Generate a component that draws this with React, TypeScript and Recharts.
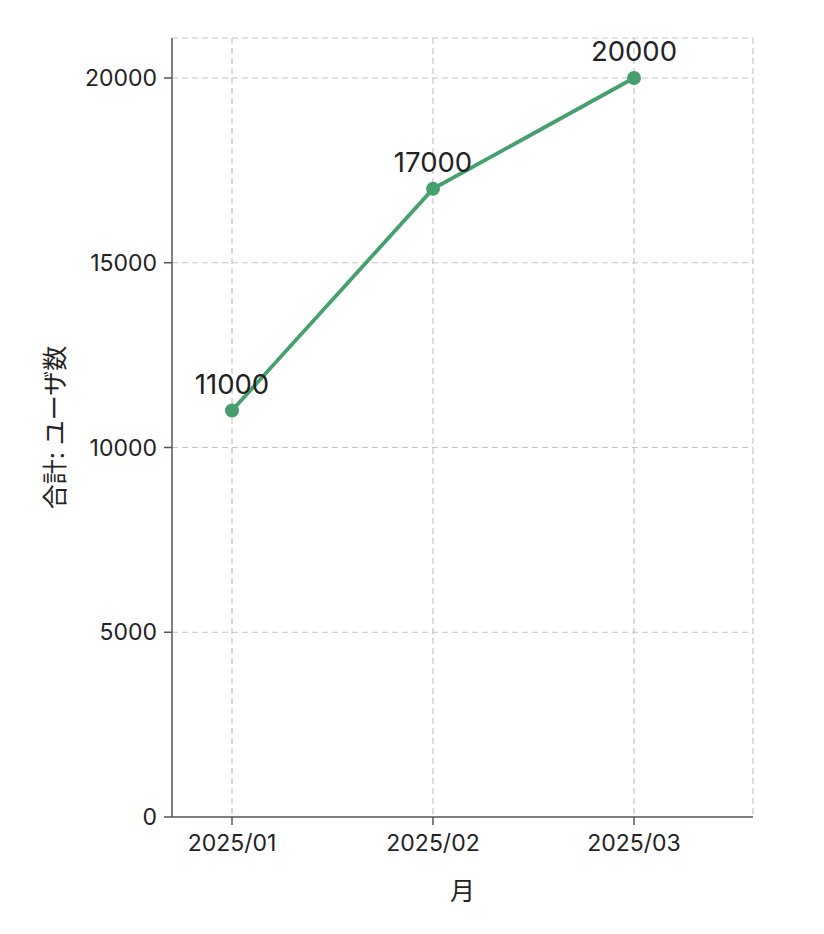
import React from 'react';
import { LineChart, Line, XAxis, YAxis, CartesianGrid, LabelList } from 'recharts';

const months = ['2025/01', '2025/02', '2025/03'];
const users = [11000, 17000, 20000];
const yTicks = [0, 5000, 10000, 15000, 20000];

const data = months.map((m, i) => ({ month: m, users: users[i] }));

const FONT = 'Inter, "Noto Sans CJK JP", sans-serif';
const GREEN = '#45A06E';
const Y_PAD_TOP = 40;
const X_PAD = { left: 60, right: 119 };

function applyScale(s: any, v: any): number | undefined {
  if (!s) return undefined;
  if (typeof s === 'function') return s(v);
  if (typeof s.map === 'function') return s.map(v);
  if (typeof s.scale === 'function') return s.scale(v);
  return undefined;
}

export default function App() {
  return (
    <div style={{ width: 800, height: 918, fontFamily: FONT }}>
      <LineChart
        width={800}
        height={918}
        data={data}
        margin={{ top: 30, right: 55, bottom: 26, left: 20 }}
      >
        <CartesianGrid
          stroke="#c4c4c4"
          strokeWidth={1.2}
          strokeDasharray="6 4"
          verticalCoordinatesGenerator={(props: any) => {
            const { xAxis, offset } = props;
            const step = (offset.width - X_PAD.left - X_PAD.right) / (months.length - 1);
            const pts = months.map((m, i) => {
              const r = applyScale(xAxis?.scale, m);
              return typeof r === 'number' ? r : offset.left + X_PAD.left + i * step;
            });
            return [...pts, offset.left + offset.width];
          }}
          horizontalCoordinatesGenerator={(props: any) => {
            const { yAxis, offset } = props;
            const max = yTicks[yTicks.length - 1];
            const pts = yTicks.slice(1).map((v) => {
              const r = applyScale(yAxis?.scale, v);
              return typeof r === 'number'
                ? r
                : offset.top + Y_PAD_TOP + (1 - v / max) * (offset.height - Y_PAD_TOP);
            });
            return [offset.top, ...pts];
          }}
        />
        <XAxis
          dataKey="month"
          padding={X_PAD}
          height={83}
          tickSize={8}
          tickMargin={10}
          stroke="#555555"
          axisLine={{ stroke: '#555555', strokeWidth: 1.5 }}
          tickLine={{ stroke: '#555555', strokeWidth: 1.5 }}
          tick={{ fill: '#222222', fontSize: 23, fontFamily: FONT }}
          label={{
            value: '月',
            position: 'insideBottom',
            offset: 0,
            fill: '#222222',
            fontSize: 25,
            fontFamily: FONT,
          }}
        />
        <YAxis
          width={144}
          domain={[0, 20000]}
          ticks={yTicks}
          padding={{ top: Y_PAD_TOP }}
          tickSize={8}
          tickMargin={7}
          stroke="#555555"
          axisLine={{ stroke: '#555555', strokeWidth: 1.5 }}
          tickLine={{ stroke: '#555555', strokeWidth: 1.5 }}
          tick={{ fill: '#222222', fontSize: 23, fontFamily: FONT }}
          label={{
            value: '合計: ユーザ数',
            angle: -90,
            position: 'insideLeft',
            offset: 27,
            fill: '#222222',
            fontSize: 25,
            fontFamily: FONT,
            style: { textAnchor: 'middle' },
          }}
        />
        <Line
          type="linear"
          dataKey="users"
          stroke={GREEN}
          strokeWidth={3.8}
          dot={{ r: 7, fill: GREEN, stroke: GREEN, strokeWidth: 0 }}
          isAnimationActive={false}
        >
          <LabelList
            dataKey="users"
            position="top"
            offset={17}
            fill="#222222"
            fontSize={27.5}
            fontFamily={FONT}
          />
        </Line>
      </LineChart>
    </div>
  );
}
